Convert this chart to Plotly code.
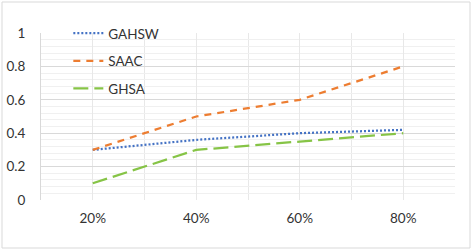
import plotly.graph_objects as go

categories = ["20%", "40%", "60%", "80%"]
gahsw = [0.30, 0.36, 0.40, 0.42]
saac = [0.30, 0.50, 0.60, 0.80]
ghsa = [0.10, 0.30, 0.35, 0.40]
y_ticks = [0, 0.2, 0.4, 0.6, 0.8, 1]

x = list(range(len(categories)))

W, H = 472, 250
ml, mr, mt, mb = 41, 17, 33, 50

fig = go.Figure()
series = [
    ("GAHSW", gahsw, "#4472C4", "2px,2px"),
    ("SAAC", saac, "#ED7D31", "7px,6px"),
    ("GHSA", ghsa, "#86C446", "15px,6px"),
]
for i, (name, vals, color, dash) in enumerate(series):
    fig.add_trace(go.Scatter(
        x=x, y=vals, name=name, mode="lines",
        line=dict(color=color, width=2.25, dash=dash),
        legendgroup=name,
    ))

font = dict(family="Lato, Open Sans, sans-serif", size=13.5, color="#333333")
lfont = dict(family="Lato, Open Sans, sans-serif", size=13.5, color="#333333")

fig.update_layout(
    width=W, height=H,
    margin=dict(l=ml, r=mr, t=mt, b=mb, autoexpand=False),
    paper_bgcolor="white", plot_bgcolor="white",
    font=font,
    showlegend=True,
    legend=dict(x=0.066, y=1.09, xanchor="left", yanchor="top",
                bgcolor="rgba(0,0,0,0)", tracegroupgap=7,
                font=lfont, itemwidth=30),
    xaxis=dict(range=[-0.5, 3.5], tickvals=x, ticktext=categories,
               showgrid=True, gridcolor="#e8e8e8", gridwidth=1,
               minor=dict(dtick=0.5, tick0=-0.5, showgrid=True, gridcolor="#e8e8e8"),
               zeroline=False, showline=False, ticks="", ticklabelstandoff=8,
               automargin=False, fixedrange=True),
    yaxis=dict(range=[0, 1], tickvals=y_ticks,
               showgrid=True, gridcolor="#d9d9d9", gridwidth=1,
               minor=dict(dtick=0.04, tick0=0, showgrid=True, gridcolor="#f0f0f0"),
               zeroline=False, showline=True, linecolor="#d9d9d9",
               ticks="", ticklabelstandoff=12, automargin=False, fixedrange=True),
)

pw = W - ml - mr
ph = H - mt - mb
fig.add_shape(type="rect", xref="paper", yref="paper",
              x0=(2 - ml) / pw, x1=(470 - ml) / pw,
              y0=(H - 248 - mb) / ph, y1=(H - 2 - mb) / ph,
              line=dict(color="#d9d9d9", width=1), layer="below")

fig.write_html("out.html", config={"displayModeBar": False},
               post_script="document.body.style.margin='0';document.body.style.padding='0';")
